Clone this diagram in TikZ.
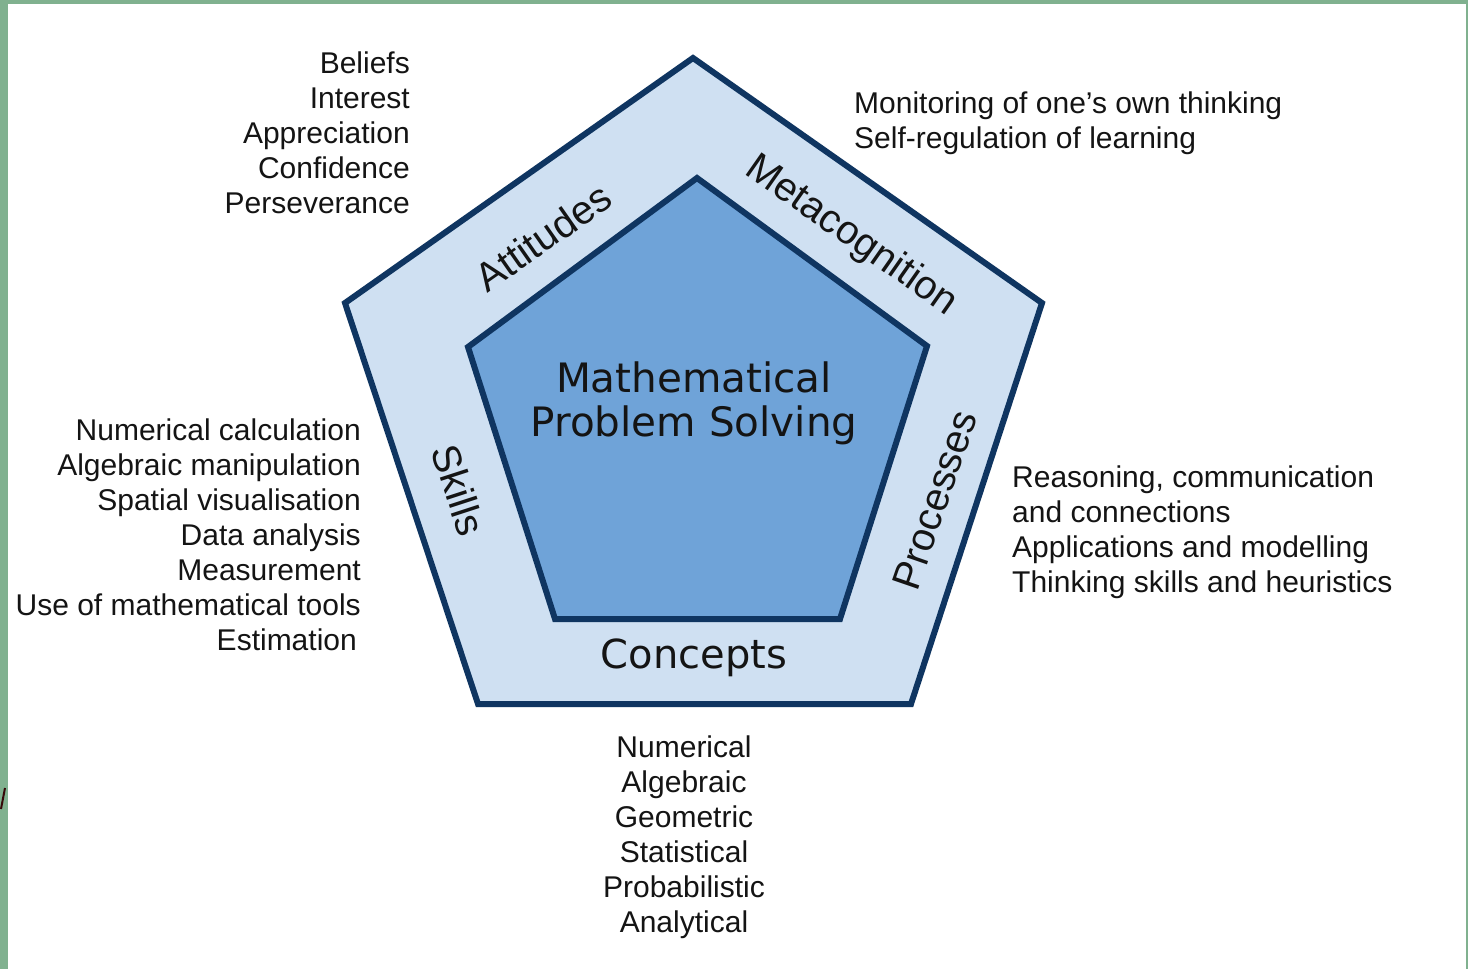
\documentclass[tikz,border=0pt]{standalone}
\usepackage{fontspec}
\setmainfont{Liberation Sans}
\newfontfamily\titlefont{DejaVu Sans}
\definecolor{framegreen}{HTML}{80B18F}
\definecolor{edgenavy}{HTML}{0F3561}
\definecolor{bandblue}{HTML}{CFE0F2}
\definecolor{coreblue}{HTML}{6FA3D8}
\definecolor{txt}{HTML}{141414}
\begin{document}
\begin{tikzpicture}[x=1pt,y=-1pt,
  pent/.style={draw=edgenavy,line width=6pt,line join=miter},
  listtxt/.style={font=\fontsize{30}{35}\selectfont,text=txt,inner sep=0pt},
  bandlbl/.style={font=\fontsize{40}{42}\selectfont,text=txt,inner sep=0pt},
  corelbl/.style={font=\titlefont\fontsize{40.5}{44}\selectfont,text=txt,inner sep=0pt,align=center}]
\useasboundingbox (0,0) rectangle (1468,969);
\fill[framegreen] (0,0) rectangle (1468,969);
\fill[white] (8,3.5) rectangle (1466,969);
\draw[txt!70!red!60!black,line width=2pt] (5,788) -- (1,809);
% pentagons
\coordinate (o1) at (693,58);
\coordinate (o2) at (1042,303);
\coordinate (o3) at (911,704);
\coordinate (o4) at (478,704);
\coordinate (o5) at (345,303);
\coordinate (i1) at (697,178);
\coordinate (i2) at (927,346);
\coordinate (i3) at (840,619);
\coordinate (i4) at (555,619);
\coordinate (i5) at (468,347);
\draw[pent,fill=bandblue] (o1)--(o2)--(o3)--(o4)--(o5)--cycle;
\draw[pent,fill=coreblue] (i1)--(i2)--(i3)--(i4)--(i5)--cycle;
% core
\node[corelbl] (core) at (694,403) {Mathematical\\Problem Solving};
% band labels
\node[bandlbl,rotate=35] (att) at (543,237) {Attitudes};
\node[bandlbl,rotate=-35] (meta) at (851,236) {Metacognition};
\node[bandlbl,rotate=-72] (skills) at (459,490) {Skills};
\node[bandlbl,rotate=71] (proc) at (935,500) {Processes};
\node[bandlbl,font=\titlefont\fontsize{40}{42}\selectfont] (conc) at (694,658) {Concepts};
% lists
\node[listtxt,anchor=north east,align=right] (attlist) at (410,52)
  {Beliefs\\Interest\\Appreciation\\Confidence\\Perseverance};
\node[listtxt,anchor=north west,align=left] (metalist) at (854,92)
  {Monitoring of one’s own thinking\\Self-regulation of learning};
\node[listtxt,anchor=north east,align=right] (skilllist) at (361,419)
  {Numerical calculation\\Algebraic manipulation\\Spatial visualisation\\Data analysis\\Measurement\\Use of mathematical tools\\Estimation\hspace*{4pt}};
\node[listtxt,anchor=north west,align=left] (proclist) at (1012,466)
  {Reasoning, communication\\and connections\\Applications and modelling\\Thinking skills and heuristics};
\node[listtxt,anchor=north,align=center] (conclist) at (684,736)
  {Numerical\\Algebraic\\Geometric\\Statistical\\Probabilistic\\Analytical};
\end{tikzpicture}
\end{document}
